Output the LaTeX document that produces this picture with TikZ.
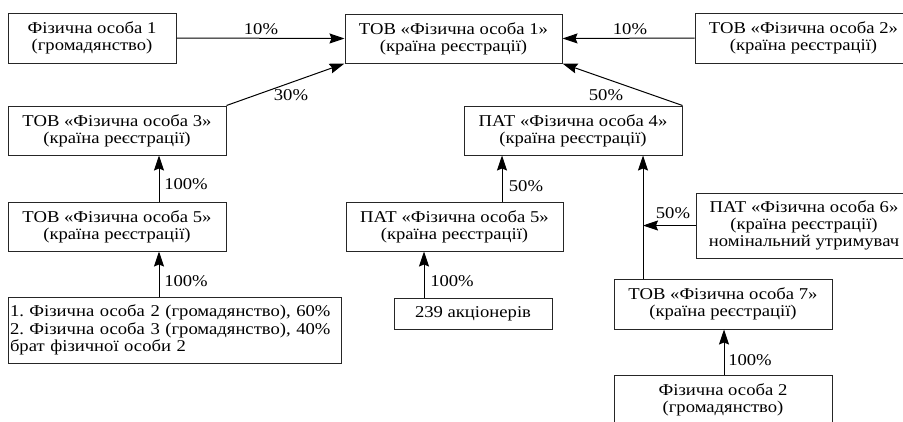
\documentclass[tikz,border=0pt]{standalone}
\usepackage{fontspec}
\setmainfont[FakeStretch=1.13]{Liberation Serif}
\usetikzlibrary{arrows.meta}
\frenchspacing
\begin{document}
\begin{tikzpicture}[x=1pt,y=-1pt,
  box/.style={draw=black!85, line width=1pt, inner sep=0pt, align=center, font=\fontsize{16.5}{17.3}\selectfont},
  arr/.style={-{Stealth[length=15pt,width=10pt,inset=2pt]}, line width=1pt},
  lbl/.style={inner sep=0pt, font=\fontsize{16.5}{17.3}\selectfont}]
\useasboundingbox (0,0) rectangle (903,421);
\fill[white] (0,0) rectangle (903,421);
\clip (0,0) rectangle (903,421);

% boxes
\node[box, minimum width=168pt, minimum height=50pt] (A) at (92,38) {Фізична особа 1\\(громадянство)};
\node[box, minimum width=217pt, minimum height=49pt] (B) at (453.5,38.5) {ТОВ «Фізична особа 1»\\(країна реєстрації)};
\node[box, minimum width=217pt, minimum height=50pt] (C) at (803.5,38) {ТОВ «Фізична особа 2»\\(країна реєстрації)};
\node[box, minimum width=218pt, minimum height=49pt] (D) at (117,130.5) {ТОВ «Фізична особа 3»\\(країна реєстрації)};
\node[box, minimum width=218pt, minimum height=49pt] (E) at (117,226.5) {ТОВ «Фізична особа 5»\\(країна реєстрації)};
\node[box, minimum width=333pt, minimum height=66pt, text width=329pt, align=left] (F) at (174.5,330) {1. Фізична особа 2 (громадянство), 60\%\\2. Фізична особа 3 (громадянство), 40\%\\брат фізичної особи 2};
\node[box, minimum width=218pt, minimum height=49pt] (G) at (573,130.5) {ПАТ «Фізична особа 4»\\(країна реєстрації)};
\node[box, minimum width=217pt, minimum height=49pt] (H) at (454.5,226.5) {ПАТ «Фізична особа 5»\\(країна реєстрації)};
\node[box, minimum width=158pt, minimum height=31pt] (I) at (473,313.5) {239 акціонерів};
\node[box, minimum width=216pt, minimum height=65pt] (J) at (804,225.5) {ПАТ «Фізична особа 6»\\(країна реєстрації)\\номінальний утримувач};
\node[box, minimum width=218pt, minimum height=50pt] (K) at (723,304) {ТОВ «Фізична особа 7»\\(країна реєстрації)};
\node[box, minimum width=218pt, minimum height=50pt] (L) at (723,400) {Фізична особа 2\\(громадянство)};

% x positions of vertical connectors
\coordinate (x1) at (159,0);
\coordinate (x2) at (502,0);
\coordinate (x3) at (424,0);
\coordinate (x4) at (643,0);
\coordinate (x5) at (724,0);

% connectors
\draw[arr] (A.east) -- (B.west);
\draw[arr] (C.west) -- (B.east);
\draw[arr] (D.north east) -- (B.south west);
\draw[arr] (G.north east) -- (B.south east);
\draw[arr] (E.north -| x1) -- (D.south -| x1);
\draw[arr] (F.north -| x1) -- (E.south -| x1);
\draw[arr] (H.north -| x2) -- (G.south -| x2);
\draw[arr] (I.north -| x3) -- (H.south -| x3);
\draw[arr] (K.north -| x4) -- (G.south -| x4);
\draw[arr] (J.west) -- (J.west -| x4);
\draw[arr] (L.north -| x5) -- (K.south -| x5);

% labels
\node[lbl] (l1) at (261,29) {10\%};
\node[lbl] (l2) at (630,29) {10\%};
\node[lbl] (l3) at (291,95) {30\%};
\node[lbl] (l4) at (606,95) {50\%};
\node[lbl] (l5) at (186,184) {100\%};
\node[lbl] (l6) at (186,281) {100\%};
\node[lbl] (l7) at (526,186) {50\%};
\node[lbl] (l8) at (452,281) {100\%};
\node[lbl] (l9) at (673,213) {50\%};
\node[lbl] (l10) at (750,360) {100\%};
\end{tikzpicture}
\end{document}
